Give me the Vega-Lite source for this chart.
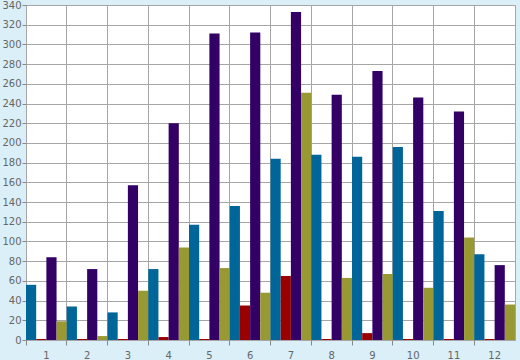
{
  "$schema": "https://vega.github.io/schema/vega-lite/v6.json",
  "width": 489,
  "height": 335,
  "autosize": "none",
  "padding": {"left": 26, "top": 5, "right": 5, "bottom": 20},
  "background": "#daeff7",
  "config": {
    "view": {"fill": "white", "stroke": "#a6a6a6", "strokeWidth": 1},
    "font": "DejaVu Sans",
    "axis": {
      "labelFont": "DejaVu Sans",
      "labelFontSize": 10,
      "labelColor": "#666666",
      "gridColor": "#a6a6a6",
      "gridOpacity": 1,
      "tickColor": "#888888",
      "domain": false
    }
  },
  "data": {
    "values": [
      {"month": 1, "series": "S1", "value": 56}, {"month": 1, "series": "S2", "value": 1}, {"month": 1, "series": "S3", "value": 84}, {"month": 1, "series": "S4", "value": 19},
      {"month": 2, "series": "S1", "value": 34}, {"month": 2, "series": "S2", "value": 1}, {"month": 2, "series": "S3", "value": 72}, {"month": 2, "series": "S4", "value": 4},
      {"month": 3, "series": "S1", "value": 28}, {"month": 3, "series": "S2", "value": 1}, {"month": 3, "series": "S3", "value": 157}, {"month": 3, "series": "S4", "value": 50},
      {"month": 4, "series": "S1", "value": 72}, {"month": 4, "series": "S2", "value": 3}, {"month": 4, "series": "S3", "value": 220}, {"month": 4, "series": "S4", "value": 94},
      {"month": 5, "series": "S1", "value": 117}, {"month": 5, "series": "S2", "value": 1}, {"month": 5, "series": "S3", "value": 311}, {"month": 5, "series": "S4", "value": 73},
      {"month": 6, "series": "S1", "value": 136}, {"month": 6, "series": "S2", "value": 35}, {"month": 6, "series": "S3", "value": 312}, {"month": 6, "series": "S4", "value": 48},
      {"month": 7, "series": "S1", "value": 184}, {"month": 7, "series": "S2", "value": 65}, {"month": 7, "series": "S3", "value": 333}, {"month": 7, "series": "S4", "value": 251},
      {"month": 8, "series": "S1", "value": 188}, {"month": 8, "series": "S2", "value": 1}, {"month": 8, "series": "S3", "value": 249}, {"month": 8, "series": "S4", "value": 63},
      {"month": 9, "series": "S1", "value": 186}, {"month": 9, "series": "S2", "value": 7}, {"month": 9, "series": "S3", "value": 273}, {"month": 9, "series": "S4", "value": 67},
      {"month": 10, "series": "S1", "value": 196}, {"month": 10, "series": "S2", "value": 1}, {"month": 10, "series": "S3", "value": 246}, {"month": 10, "series": "S4", "value": 53},
      {"month": 11, "series": "S1", "value": 131}, {"month": 11, "series": "S2", "value": 1}, {"month": 11, "series": "S3", "value": 232}, {"month": 11, "series": "S4", "value": 104},
      {"month": 12, "series": "S1", "value": 87}, {"month": 12, "series": "S2", "value": 1}, {"month": 12, "series": "S3", "value": 76}, {"month": 12, "series": "S4", "value": 36}
    ]
  },
  "mark": {"type": "bar"},
  "encoding": {
    "x": {
      "field": "month",
      "type": "ordinal",
      "scale": {"paddingInner": 0, "paddingOuter": 0},
      "axis": {"title": null, "labelAngle": 0, "bandPosition": 0, "grid": true, "tickSize": 5, "labelPadding": 5}
    },
    "xOffset": {
      "field": "series",
      "type": "nominal",
      "sort": ["S1", "S2", "S3", "S4"],
      "scale": {"paddingInner": 0, "paddingOuter": 0}
    },
    "y": {
      "field": "value",
      "type": "quantitative",
      "scale": {"domain": [0, 340], "nice": false},
      "axis": {"title": null, "values": [0, 20, 40, 60, 80, 100, 120, 140, 160, 180, 200, 220, 240, 260, 280, 300, 320, 340], "grid": true, "tickSize": 4, "labelPadding": 1}
    },
    "color": {
      "field": "series",
      "type": "nominal",
      "scale": {"domain": ["S1", "S2", "S3", "S4"], "range": ["#006699", "#990000", "#330066", "#999933"]},
      "legend": null
    }
  }
}
